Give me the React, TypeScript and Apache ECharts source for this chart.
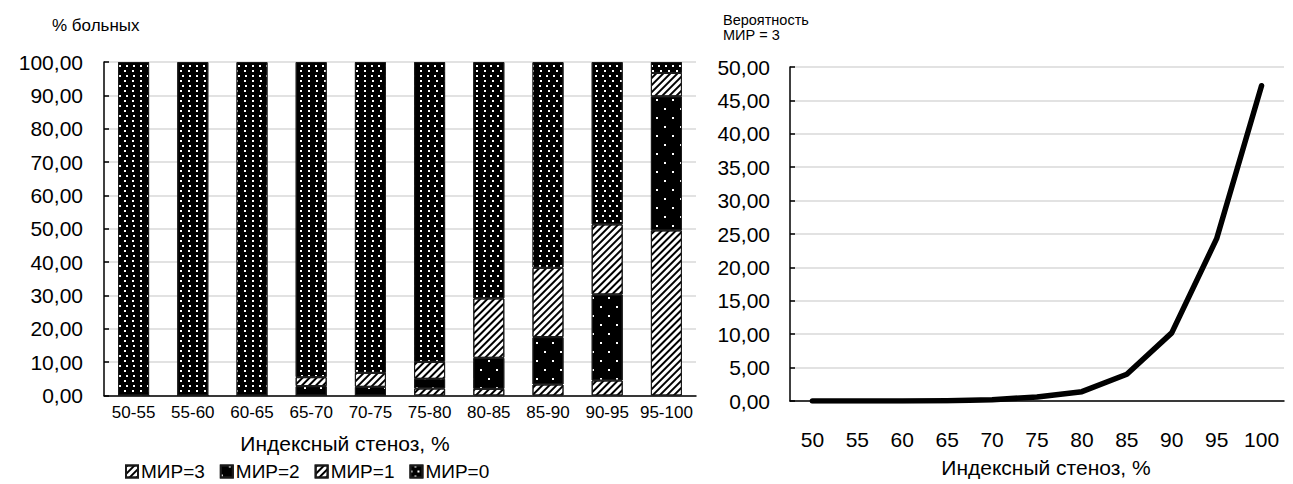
import React, { useEffect, useRef } from "react";
import * as echarts from "echarts";

const barCategories = ["50-55", "55-60", "60-65", "65-70", "70-75", "75-80", "80-85", "85-90", "90-95", "95-100"];
const mir3 = [0, 0, 0, 0, 0, 2.1, 2.0, 3.3, 4.5, 49.5];
const mir2 = [0, 0, 0, 2.8, 2.6, 2.9, 9.3, 14.2, 25.8, 40.2];
const mir1 = [0, 0, 0, 2.7, 4.2, 5.1, 17.8, 20.8, 21.0, 7.0];
const mir0 = [100, 100, 100, 94.5, 93.2, 89.9, 70.9, 61.7, 48.7, 3.3];

const lineCategories = ["50", "55", "60", "65", "70", "75", "80", "85", "90", "95", "100"];
const probMir3 = [0, 0, 0, 0.05, 0.2, 0.6, 1.4, 4.0, 10.2, 24.3, 47.2];

const FONT = "Liberation Sans, Arial, sans-serif";
const fmt = (v: number) => v.toFixed(2).replace(".", ",");

const hatchDecal = {
  symbol: "rect",
  symbolSize: 1,
  color: "#000",
  backgroundColor: "#fff",
  dashArrayX: [1, 0],
  dashArrayY: [1.4, 3],
  rotation: -Math.PI / 4,
};
const sparseDots = {
  symbol: "rect",
  symbolSize: 1,
  color: "#fff",
  backgroundColor: "#000",
  dashArrayX: [[2, 14], [0, 8, 2, 6]],
  dashArrayY: [2, 7],
};
const denseDots = {
  symbol: "rect",
  symbolSize: 1,
  color: "#fff",
  backgroundColor: "#000",
  dashArrayX: [[2, 5], [0, 3.5, 2, 1.5]],
  dashArrayY: [2, 2.5],
};

export default function App() {
  const ref = useRef<HTMLDivElement>(null);
  useEffect(() => {
    if (!ref.current) return;
    const chart = echarts.init(ref.current, undefined, { renderer: "svg" });
    const barSeries = (name: string, data: number[], color: string, decal: any) => ({
      name,
      type: "bar",
      stack: "total",
      xAxisIndex: 0,
      yAxisIndex: 0,
      barWidth: 31,
      data,
      itemStyle: { color, borderColor: "#1a1a1a", borderWidth: 1, decal },
      emphasis: { disabled: true },
    });
    chart.setOption({
      animation: false,
      textStyle: { fontFamily: FONT },
      grid: [
        { left: 104, top: 62, width: 592, height: 333.5 },
        { left: 790, top: 67, width: 494, height: 334 },
      ],
      xAxis: [
        {
          gridIndex: 0,
          type: "category",
          data: barCategories,
          axisLine: { lineStyle: { color: "#000", width: 1.5 } },
          axisTick: { show: false },
          axisLabel: { color: "#000", fontSize: 17, margin: 8, fontFamily: FONT, interval: 0 },
        },
        {
          gridIndex: 1,
          type: "category",
          data: lineCategories,
          boundaryGap: true,
          axisLine: { lineStyle: { color: "#000", width: 1.5 } },
          axisTick: { show: false },
          axisLabel: { color: "#000", fontSize: 21, margin: 28, fontFamily: FONT, interval: 0 },
        },
      ],
      yAxis: [
        {
          gridIndex: 0,
          type: "value",
          min: 0,
          max: 100,
          interval: 10,
          axisLine: { show: true, lineStyle: { color: "#000", width: 1.5 } },
          axisTick: { show: true, inside: true, length: 5, lineStyle: { color: "#000", width: 1.5 } },
          splitLine: { lineStyle: { color: "#d9d9d9", width: 1.5 } },
          axisLabel: { color: "#000", fontSize: 21, margin: 21, formatter: fmt, fontFamily: FONT },
        },
        {
          gridIndex: 1,
          type: "value",
          min: 0,
          max: 50,
          interval: 5,
          axisLine: { show: true, lineStyle: { color: "#000", width: 1.5 } },
          axisTick: { show: true, inside: true, length: 5, lineStyle: { color: "#000", width: 1.5 } },
          splitLine: { lineStyle: { color: "#d9d9d9", width: 1.5 } },
          axisLabel: { color: "#000", fontSize: 21, margin: 20, formatter: fmt, fontFamily: FONT },
        },
      ],
      legend: {
        left: 120,
        top: 457,
        itemWidth: 12,
        itemHeight: 12,
        itemGap: 15,
        icon: "rect",
        textStyle: { color: "#000", fontSize: 19, fontFamily: FONT, padding: [0, 0, 0, -2] },
        data: ["МИР=3", "МИР=2", "МИР=1", "МИР=0"],
      },
      series: [
        barSeries("МИР=3", mir3, "#fff", hatchDecal),
        barSeries("МИР=2", mir2, "#000", sparseDots),
        barSeries("МИР=1", mir1, "#fff", hatchDecal),
        barSeries("МИР=0", mir0, "#000", denseDots),
        {
          name: "Вероятность",
          type: "line",
          xAxisIndex: 1,
          yAxisIndex: 1,
          data: probMir3,
          symbol: "none",
          lineStyle: { color: "#000", width: 5.5, cap: "round", join: "round" },
          emphasis: { disabled: true },
        },
      ],
      graphic: [
        { type: "text", left: 52, top: 17, style: { text: "% больных", fontSize: 17, fill: "#000", fontFamily: FONT } },
        {
          type: "text",
          left: 723,
          top: 12,
          style: { text: "Вероятность\nМИР = 3", fontSize: 14.5, lineHeight: 15, fill: "#000", fontFamily: FONT },
        },
        {
          type: "text",
          x: 345,
          y: 443,
          style: { text: "Индексный стеноз, %", fontSize: 21, fill: "#000", fontFamily: FONT, align: "center", verticalAlign: "middle" },
        },
        {
          type: "text",
          x: 1046,
          y: 467,
          style: { text: "Индексный стеноз, %", fontSize: 21, fill: "#000", fontFamily: FONT, align: "center", verticalAlign: "middle" },
        },
      ],
    });
    return () => chart.dispose();
  }, []);
  return (
    <div
      ref={ref}
      style={{ position: "absolute", left: 0, top: 0, width: 1293, height: 484, background: "#fff" }}
    />
  );
}
